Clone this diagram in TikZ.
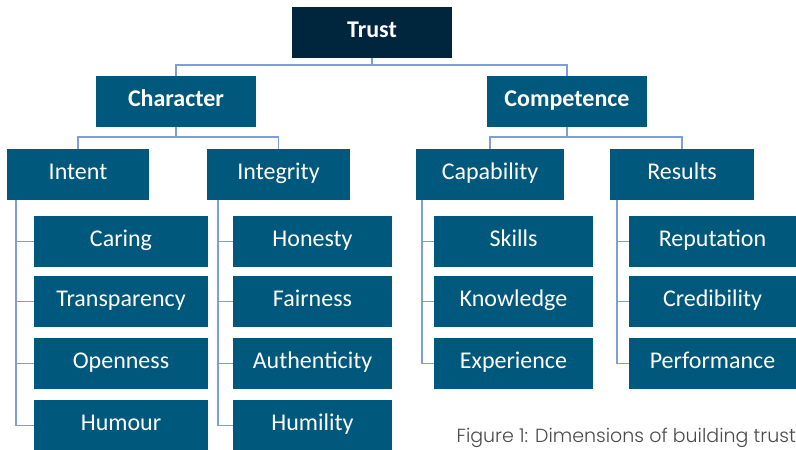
\documentclass[tikz,border=0pt]{standalone}
\usepackage{fontspec}
\setmainfont{Carlito}
\IfFontExistsTF{Poppins Light}
  {\newfontfamily\captionfont{Poppins Light}}
  {\newfontfamily\captionfont{Poppins}}
\usepackage{xcolor}
\usepackage{tikz}
\usetikzlibrary{positioning}

\definecolor{trustnavy}{HTML}{00263E}
\definecolor{boxblue}{HTML}{00587C}
\definecolor{linkblue}{HTML}{7E9DD9}
\definecolor{captiongray}{HTML}{4A4A4A}

\tikzset{
  box/.style={fill=boxblue, text=white, minimum height=51pt, inner sep=0pt,
    text height=16pt, text depth=6pt, font=\fontsize{24}{28}\selectfont},
  head/.style={box, minimum width=160pt, font=\fontsize{24}{28}\selectfont\bfseries},
  leaf/.style={box, minimum width=#1},
  link/.style={draw=linkblue, line width=1.6pt}
}

\begin{document}
\begin{tikzpicture}[x=1pt,y=-1pt]
  \useasboundingbox (0,0) rectangle (796,450);

  % top levels
  \node[head, fill=trustnavy] (trust) at (372,32.5) {Trust};
  \node[head] (character)  at (176,101.5) {Character};
  \node[head] (competence) at (567,101.5) {Competence};

  \node[box, minimum width=142pt] (intent)     at (78,174.5)  {Intent};
  \node[box, minimum width=143pt] (integrity)  at (278.5,174.5) {Integrity};
  \node[box, minimum width=148pt] (capability) at (490,174.5) {Capability};
  \node[box, minimum width=144pt] (results)    at (682,174.5) {Results};

  % leaves
  \node[leaf=174pt] (caring)       at (121,241.5) {Caring};
  \node[leaf=174pt] (transparency) at (121,301.5) {Transparency};
  \node[leaf=174pt] (openness)     at (121,363.5) {Openness};
  \node[leaf=174pt] (humour)       at (121,425.5) {Humour};

  \node[leaf=159pt] (honesty)      at (312.5,241.5) {Honesty};
  \node[leaf=159pt] (fairness)     at (312.5,301.5) {Fairness};
  \node[leaf=159pt] (authenticity) at (312.5,363.5) {Authenticity};
  \node[leaf=159pt] (humility)     at (312.5,425.5) {Humility};

  \node[leaf=159pt] (skills)       at (513.5,241.5) {Skills};
  \node[leaf=159pt] (knowledge)    at (513.5,301.5) {Knowledge};
  \node[leaf=159pt] (experience)   at (513.5,363.5) {Experience};

  \node[leaf=167pt] (reputation)   at (712.5,241.5) {Reputation};
  \node[leaf=167pt] (credibility)  at (712.5,301.5) {Credibility};
  \node[leaf=167pt] (performance)  at (712.5,363.5) {Performance};

  \node[anchor=base east, inner sep=0pt, text=captiongray,
    font=\captionfont\fontsize{19}{21}\selectfont] (caption) at (796,442)
    {Figure 1: Dimensions of building trust};

  % tree links
  \draw[link] (trust.south) -- ++(0,7) -| (character.north);
  \draw[link] (trust.south) -- ++(0,7) -| (competence.north);
  \draw[link] (character.south) -- ++(0,10) -| (intent.north);
  \draw[link] (character.south) -- ++(0,10) -| (integrity.north);
  \draw[link] (competence.south) -- ++(0,10) -| (capability.north);
  \draw[link] (competence.south) -- ++(0,10) -| (results.north);

  % side spines
  \draw[link] ([xshift=9pt]intent.south west) |- (caring.west);
  \draw[link] ([xshift=9pt]intent.south west) |- (transparency.west);
  \draw[link] ([xshift=9pt]intent.south west) |- (openness.west);
  \draw[link] ([xshift=9pt]intent.south west) |- (humour.west);
  \draw[link] ([xshift=11pt]integrity.south west) |- (honesty.west);
  \draw[link] ([xshift=11pt]integrity.south west) |- (fairness.west);
  \draw[link] ([xshift=11pt]integrity.south west) |- (authenticity.west);
  \draw[link] ([xshift=11pt]integrity.south west) |- (humility.west);
  \draw[link] ([xshift=6pt]capability.south west) |- (skills.west);
  \draw[link] ([xshift=6pt]capability.south west) |- (knowledge.west);
  \draw[link] ([xshift=6pt]capability.south west) |- (experience.west);
  \draw[link] ([xshift=7pt]results.south west) |- (reputation.west);
  \draw[link] ([xshift=7pt]results.south west) |- (credibility.west);
  \draw[link] ([xshift=7pt]results.south west) |- (performance.west);
\end{tikzpicture}
\end{document}
